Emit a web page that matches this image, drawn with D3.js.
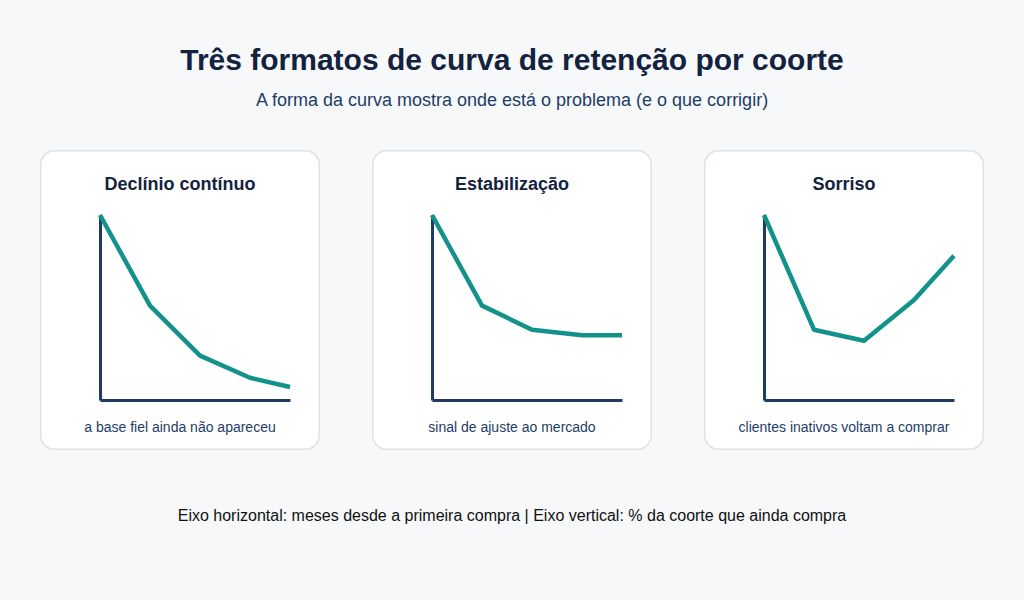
<!DOCTYPE html>
<html><head><meta charset="utf-8">
<script src="https://cdn.jsdelivr.net/npm/d3@7"></script>
<style>
html,body{margin:0;padding:0;background:#f6f8fa;}
svg{display:block;font-family:"Liberation Sans",Arial,Helvetica,sans-serif;}
</style></head>
<body>
<svg id="chart" width="1024" height="600"></svg>
<script>
const title = "Três formatos de curva de retenção por coorte";
const subtitle = "A forma da curva mostra onde está o problema (e o que corrigir)";
const footer = "Eixo horizontal: meses desde a primeira compra | Eixo vertical: % da coorte que ainda compra";
const panelTitles = ["Declínio contínuo", "Estabilização", "Sorriso"];
const panelCaptions = ["a base fiel ainda não apareceu", "sinal de ajuste ao mercado", "clientes inativos voltam a comprar"];
const months = [0, 1, 2, 3, 3.8];
const declinio = [100, 51, 24, 12, 7];
const estabilizacao = [100, 51, 38, 35, 35];
const sorriso = [100, 38, 32, 54, 78];
const seriesList = [declinio, estabilizacao, sorriso];

const svg = d3.select("#chart");
svg.append("text").attr("x", 512).attr("y", 70).attr("text-anchor", "middle")
  .attr("font-size", 30).attr("font-weight", "bold").attr("fill", "#13223f").text(title);
svg.append("text").attr("x", 512).attr("y", 106).attr("text-anchor", "middle")
  .attr("font-size", 18).attr("fill", "#1d3d66").text(subtitle);
svg.append("text").attr("x", 512).attr("y", 521).attr("text-anchor", "middle")
  .attr("font-size", 16).attr("fill", "#111").text(footer);

const panelW = 280, panelH = 300, gap = 52, left0 = 40, top0 = 150;
const m = {l: 60, r: 30, t: 60, b: 50};
const plotW = panelW - m.l - m.r, plotH = panelH - m.t - m.b;
const x = d3.scaleLinear().domain([0, d3.max(months)]).range([0, plotW]);
const y = d3.scaleLinear().domain([0, 100]).range([plotH, 5]);

seriesList.forEach((vals, i) => {
  const g = svg.append("g").attr("transform", `translate(${left0 + i * (panelW + gap)},${top0})`);
  g.append("rect").attr("x", 0.75).attr("y", 0.75).attr("width", panelW - 1.5).attr("height", panelH - 1.5)
    .attr("rx", 14).attr("fill", "#fff").attr("stroke", "#dde3e8").attr("stroke-width", 1.5);
  g.append("text").attr("x", panelW / 2).attr("y", 40).attr("text-anchor", "middle")
    .attr("font-size", 18).attr("font-weight", "bold").attr("fill", "#13223f").text(panelTitles[i]);
  g.append("text").attr("x", panelW / 2).attr("y", 282).attr("text-anchor", "middle")
    .attr("font-size", 14).attr("fill", "#1d3d66").text(panelCaptions[i]);
  const p = g.append("g").attr("transform", `translate(${m.l},${m.t})`);
  const ax = p.append("g").attr("transform", `translate(0,${plotH})`)
    .call(d3.axisBottom(x).ticks(0).tickSize(0).tickFormat(""));
  const ay = p.append("g").call(d3.axisLeft(y).ticks(0).tickSize(0).tickFormat(""));
  [ax, ay].forEach(a => a.select(".domain").attr("stroke", "#1f3b63").attr("stroke-width", 3));
  const line = d3.line().x((d, j) => x(months[j])).y(d => y(d));
  p.append("path").datum(vals).attr("d", line).attr("fill", "none")
    .attr("stroke", "#13918b").attr("stroke-width", 4.5).attr("stroke-linejoin", "round");
});
</script>
</body></html>
